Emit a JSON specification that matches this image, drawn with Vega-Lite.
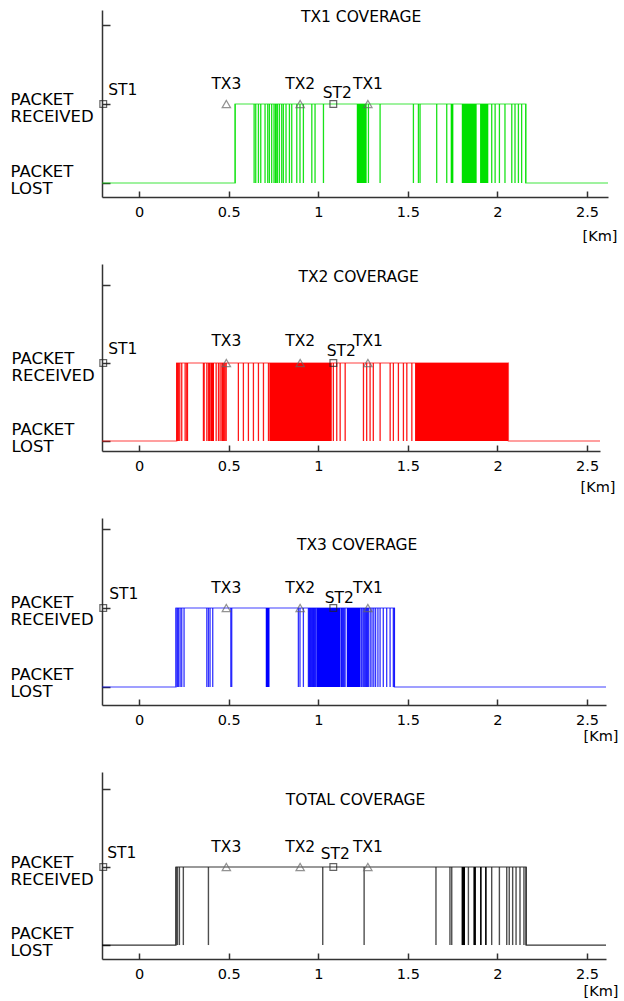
{
  "$schema": "https://vega.github.io/schema/vega-lite/v6.json",
  "padding": {"left": 10, "top": 10, "right": 0, "bottom": 0},
  "config": {
    "view": {"stroke": null},
    "font": "DejaVu Sans",
    "axis": {"grid": false, "domainColor": "#333", "domainWidth": 1.5, "tickColor": "#333", "tickWidth": 1.5, "labelColor": "#000", "labelFont": "DejaVu Sans", "titleFont": "DejaVu Sans", "titleFontWeight": "normal", "titleColor": "#000"},
    "text": {"font": "DejaVu Sans", "fontSize": 15.5, "color": "#000"}
  },
  "datasets": {
    "levels": [
      {"panel": "TX1", "km": -0.207, "state": 0}, {"panel": "TX1", "km": 0.536, "state": 1}, {"panel": "TX1", "km": 2.158, "state": 0}, {"panel": "TX1", "km": 2.617, "state": 0},
      {"panel": "TX2", "km": -0.207, "state": 0}, {"panel": "TX2", "km": 0.21, "state": 1}, {"panel": "TX2", "km": 2.061, "state": 0}, {"panel": "TX2", "km": 2.572, "state": 0},
      {"panel": "TX3", "km": -0.207, "state": 0}, {"panel": "TX3", "km": 0.206, "state": 1}, {"panel": "TX3", "km": 1.425, "state": 0}, {"panel": "TX3", "km": 2.606, "state": 0},
      {"panel": "TOTAL", "km": -0.207, "state": 0}, {"panel": "TOTAL", "km": 0.206, "state": 1}, {"panel": "TOTAL", "km": 2.16, "state": 0}, {"panel": "TOTAL", "km": 2.606, "state": 0}
    ],
    "bursts": [
      {"panel": "TX1", "km": 1.215, "end": 1.27}, {"panel": "TX1", "km": 1.739, "end": 1.754}, {"panel": "TX1", "km": 1.801, "end": 1.884}, {"panel": "TX1", "km": 1.903, "end": 1.949},
      {"panel": "TX2", "km": 0.4, "end": 0.418}, {"panel": "TX2", "km": 0.727, "end": 1.075}, {"panel": "TX2", "km": 1.54, "end": 2.061},
      {"panel": "TX3", "km": 0.707, "end": 0.728}, {"panel": "TX3", "km": 0.99, "end": 1.122}, {"panel": "TX3", "km": 1.159, "end": 1.233},
      {"panel": "TOTAL", "km": 1.8, "end": 1.819}, {"panel": "TOTAL", "km": 1.866, "end": 1.88}, {"panel": "TOTAL", "km": 1.903, "end": 1.912}, {"panel": "TOTAL", "km": 1.931, "end": 1.94}
    ],
    "drops": [
      {"panel": "TX1", "km": 0.536}, {"panel": "TX1", "km": 0.642}, {"panel": "TX1", "km": 0.651}, {"panel": "TX1", "km": 0.666}, {"panel": "TX1", "km": 0.679}, {"panel": "TX1", "km": 0.703}, {"panel": "TX1", "km": 0.718}, {"panel": "TX1", "km": 0.727}, {"panel": "TX1", "km": 0.74}, {"panel": "TX1", "km": 0.753}, {"panel": "TX1", "km": 0.761}, {"panel": "TX1", "km": 0.765}, {"panel": "TX1", "km": 0.772}, {"panel": "TX1", "km": 0.783}, {"panel": "TX1", "km": 0.796}, {"panel": "TX1", "km": 0.805}, {"panel": "TX1", "km": 0.82}, {"panel": "TX1", "km": 0.839}, {"panel": "TX1", "km": 0.852}, {"panel": "TX1", "km": 0.88}, {"panel": "TX1", "km": 0.898}, {"panel": "TX1", "km": 0.917}, {"panel": "TX1", "km": 0.964}, {"panel": "TX1", "km": 0.982}, {"panel": "TX1", "km": 1.029}, {"panel": "TX1", "km": 1.28}, {"panel": "TX1", "km": 1.345}, {"panel": "TX1", "km": 1.531}, {"panel": "TX1", "km": 1.559}, {"panel": "TX1", "km": 1.568}, {"panel": "TX1", "km": 1.661}, {"panel": "TX1", "km": 1.717}, {"panel": "TX1", "km": 1.968}, {"panel": "TX1", "km": 1.987}, {"panel": "TX1", "km": 2.011}, {"panel": "TX1", "km": 2.042}, {"panel": "TX1", "km": 2.08}, {"panel": "TX1", "km": 2.098}, {"panel": "TX1", "km": 2.117}, {"panel": "TX1", "km": 2.135}, {"panel": "TX1", "km": 2.158},
      {"panel": "TX2", "km": 0.21}, {"panel": "TX2", "km": 0.214}, {"panel": "TX2", "km": 0.22}, {"panel": "TX2", "km": 0.227}, {"panel": "TX2", "km": 0.238}, {"panel": "TX2", "km": 0.257}, {"panel": "TX2", "km": 0.266}, {"panel": "TX2", "km": 0.27}, {"panel": "TX2", "km": 0.359}, {"panel": "TX2", "km": 0.363}, {"panel": "TX2", "km": 0.378}, {"panel": "TX2", "km": 0.387}, {"panel": "TX2", "km": 0.393}, {"panel": "TX2", "km": 0.396}, {"panel": "TX2", "km": 0.43}, {"panel": "TX2", "km": 0.443}, {"panel": "TX2", "km": 0.452}, {"panel": "TX2", "km": 0.462}, {"panel": "TX2", "km": 0.466}, {"panel": "TX2", "km": 0.47}, {"panel": "TX2", "km": 0.475}, {"panel": "TX2", "km": 0.48}, {"panel": "TX2", "km": 0.486}, {"panel": "TX2", "km": 0.554}, {"panel": "TX2", "km": 0.582}, {"panel": "TX2", "km": 0.61}, {"panel": "TX2", "km": 0.638}, {"panel": "TX2", "km": 0.666}, {"panel": "TX2", "km": 0.694}, {"panel": "TX2", "km": 0.722}, {"panel": "TX2", "km": 1.084}, {"panel": "TX2", "km": 1.103}, {"panel": "TX2", "km": 1.122}, {"panel": "TX2", "km": 1.15}, {"panel": "TX2", "km": 1.252}, {"panel": "TX2", "km": 1.27}, {"panel": "TX2", "km": 1.289}, {"panel": "TX2", "km": 1.307}, {"panel": "TX2", "km": 1.345}, {"panel": "TX2", "km": 1.401}, {"panel": "TX2", "km": 1.419}, {"panel": "TX2", "km": 1.447}, {"panel": "TX2", "km": 1.475}, {"panel": "TX2", "km": 1.494}, {"panel": "TX2", "km": 1.522},
      {"panel": "TX3", "km": 0.206}, {"panel": "TX3", "km": 0.214}, {"panel": "TX3", "km": 0.22}, {"panel": "TX3", "km": 0.229}, {"panel": "TX3", "km": 0.238}, {"panel": "TX3", "km": 0.251}, {"panel": "TX3", "km": 0.378}, {"panel": "TX3", "km": 0.387}, {"panel": "TX3", "km": 0.396}, {"panel": "TX3", "km": 0.411}, {"panel": "TX3", "km": 0.512}, {"panel": "TX3", "km": 0.517}, {"panel": "TX3", "km": 0.889}, {"panel": "TX3", "km": 0.898}, {"panel": "TX3", "km": 0.917}, {"panel": "TX3", "km": 0.945}, {"panel": "TX3", "km": 0.949}, {"panel": "TX3", "km": 0.952}, {"panel": "TX3", "km": 0.957}, {"panel": "TX3", "km": 0.96}, {"panel": "TX3", "km": 0.964}, {"panel": "TX3", "km": 0.968}, {"panel": "TX3", "km": 0.972}, {"panel": "TX3", "km": 0.975}, {"panel": "TX3", "km": 0.979}, {"panel": "TX3", "km": 0.983}, {"panel": "TX3", "km": 0.987}, {"panel": "TX3", "km": 1.127}, {"panel": "TX3", "km": 1.13}, {"panel": "TX3", "km": 1.135}, {"panel": "TX3", "km": 1.14}, {"panel": "TX3", "km": 1.145}, {"panel": "TX3", "km": 1.15}, {"panel": "TX3", "km": 1.238}, {"panel": "TX3", "km": 1.243}, {"panel": "TX3", "km": 1.25}, {"panel": "TX3", "km": 1.255}, {"panel": "TX3", "km": 1.26}, {"panel": "TX3", "km": 1.265}, {"panel": "TX3", "km": 1.27}, {"panel": "TX3", "km": 1.275}, {"panel": "TX3", "km": 1.28}, {"panel": "TX3", "km": 1.29}, {"panel": "TX3", "km": 1.3}, {"panel": "TX3", "km": 1.31}, {"panel": "TX3", "km": 1.32}, {"panel": "TX3", "km": 1.333}, {"panel": "TX3", "km": 1.345}, {"panel": "TX3", "km": 1.363}, {"panel": "TX3", "km": 1.382}, {"panel": "TX3", "km": 1.401}, {"panel": "TX3", "km": 1.419}, {"panel": "TX3", "km": 1.425},
      {"panel": "TOTAL", "km": 0.206}, {"panel": "TOTAL", "km": 0.214}, {"panel": "TOTAL", "km": 0.225}, {"panel": "TOTAL", "km": 0.247}, {"panel": "TOTAL", "km": 0.387}, {"panel": "TOTAL", "km": 1.025}, {"panel": "TOTAL", "km": 1.256}, {"panel": "TOTAL", "km": 1.657}, {"panel": "TOTAL", "km": 1.735}, {"panel": "TOTAL", "km": 1.745}, {"panel": "TOTAL", "km": 1.838}, {"panel": "TOTAL", "km": 1.968}, {"panel": "TOTAL", "km": 2.011}, {"panel": "TOTAL", "km": 2.052}, {"panel": "TOTAL", "km": 2.066}, {"panel": "TOTAL", "km": 2.085}, {"panel": "TOTAL", "km": 2.104}, {"panel": "TOTAL", "km": 2.126}, {"panel": "TOTAL", "km": 2.148}, {"panel": "TOTAL", "km": 2.16}
    ],
    "sites": [
      {"site": "ST1", "kind": "ST", "km": -0.2},
      {"site": "TX3", "kind": "TX", "km": 0.487},
      {"site": "TX2", "kind": "TX", "km": 0.899},
      {"site": "ST2", "kind": "ST", "km": 1.084},
      {"site": "TX1", "kind": "TX", "km": 1.277}
    ],
    "titles": [
      {"panel": "TX1", "title": "TX1 COVERAGE"},
      {"panel": "TX2", "title": "TX2 COVERAGE"},
      {"panel": "TX3", "title": "TX3 COVERAGE"},
      {"panel": "TOTAL", "title": "TOTAL COVERAGE"}
    ]
  },
  "spacing": 67,
  "bounds": "flush",
  "vconcat": [
    {
      "width": 506, "height": 187,
      "layer": [
        {"data": {"name": "levels"}, "transform": [{"filter": "datum.panel == 'TX1'"}], "mark": {"type": "line", "interpolate": "step-after", "color": "#00dd00", "opacity": 0.5, "strokeWidth": 1.3, "clip": true}, "encoding": {"x": {"field": "km", "type": "quantitative", "scale": {"domain": [-0.207, 2.617], "nice": false, "zero": false}, "axis": {"values": [0, 0.5, 1, 1.5, 2, 2.5], "format": "~g", "tickSize": -6, "labelPadding": 14, "labelFontSize": 14.5, "title": "[Km]", "titleFontSize": 14.5, "titleAlign": "right", "titleBaseline": "middle", "titleX": 515, "titleY": 39}}, "y": {"field": "state", "type": "quantitative", "scale": {"domain": [-0.177, 2.19], "nice": false, "zero": false}, "axis": {"values": [0, 1, 2], "labelExpr": "datum.value == 1 ? ['PACKET','RECEIVED'] : datum.value == 0 ? ['PACKET','LOST'] : ''", "labelAlign": "left", "labelBaseline": "middle", "labelPadding": 100, "labelOffset": {"condition": {"test": "datum.value == 0", "value": -12}, "value": -5}, "tickSize": -8, "labelFontSize": 16.5, "labelLineHeight": 17, "title": null, "labelOverlap": false, "labelBound": false}}}},
        {"data": {"name": "bursts"}, "transform": [{"filter": "datum.panel == 'TX1'"}], "mark": {"type": "rect", "color": "#00e000"}, "encoding": {"x": {"field": "km", "type": "quantitative"}, "x2": {"field": "end"}, "y": {"datum": 0}, "y2": {"datum": 1}}},
        {"data": {"name": "drops"}, "transform": [{"filter": "datum.panel == 'TX1'"}], "mark": {"type": "rule", "color": "#00e000", "opacity": 0.9, "strokeWidth": 1.3}, "encoding": {"x": {"field": "km", "type": "quantitative"}, "y": {"datum": 0}, "y2": {"datum": 1}}},
        {"data": {"name": "sites"}, "transform": [{"filter": "datum.kind == 'TX'"}], "mark": {"type": "point", "shape": "triangle-up", "filled": false, "color": "#666", "size": 70, "strokeWidth": 1.2}, "encoding": {"x": {"field": "km", "type": "quantitative"}, "y": {"datum": 1}}},
        {"data": {"name": "sites"}, "transform": [{"filter": "datum.kind == 'ST'"}], "mark": {"type": "square", "filled": false, "color": "#222", "size": 45, "strokeWidth": 1.2}, "encoding": {"x": {"field": "km", "type": "quantitative"}, "y": {"datum": 1}}},
        {"data": {"name": "sites"}, "transform": [{"filter": "datum.kind == 'TX'"}], "mark": {"type": "text", "dy": -20}, "encoding": {"x": {"field": "km", "type": "quantitative"}, "y": {"datum": 1}, "text": {"field": "site"}}},
        {"data": {"name": "sites"}, "transform": [{"filter": "datum.site == 'ST1'"}], "mark": {"type": "text", "align": "left", "dx": 5, "dy": -14}, "encoding": {"x": {"field": "km", "type": "quantitative"}, "y": {"datum": 1}, "text": {"field": "site"}}},
        {"data": {"name": "sites"}, "transform": [{"filter": "datum.site == 'ST2'"}], "mark": {"type": "text", "dx": 4, "dy": -11}, "encoding": {"x": {"field": "km", "type": "quantitative"}, "y": {"datum": 1}, "text": {"field": "site"}}},
        {"data": {"name": "titles"}, "transform": [{"filter": "datum.panel == 'TX1'"}], "mark": {"type": "text", "baseline": "middle"}, "encoding": {"x": {"datum": 1.239}, "y": {"datum": 2.1}, "text": {"field": "title"}}}
      ]
    },
    {
      "width": 498, "height": 187,
      "layer": [
        {"data": {"name": "levels"}, "transform": [{"filter": "datum.panel == 'TX2'"}], "mark": {"type": "line", "interpolate": "step-after", "color": "#ff0000", "opacity": 0.5, "strokeWidth": 1.3, "clip": true}, "encoding": {"x": {"field": "km", "type": "quantitative", "scale": {"domain": [-0.207, 2.572], "nice": false, "zero": false}, "axis": {"values": [0, 0.5, 1, 1.5, 2, 2.5], "format": "~g", "tickSize": -6, "labelPadding": 14, "labelFontSize": 14.5, "title": "[Km]", "titleFontSize": 14.5, "titleAlign": "right", "titleBaseline": "middle", "titleX": 513, "titleY": 36}}, "y": {"field": "state", "type": "quantitative", "scale": {"domain": [-0.128, 2.269], "nice": false, "zero": false}, "axis": {"values": [0, 1, 2], "labelExpr": "datum.value == 1 ? ['PACKET','RECEIVED'] : datum.value == 0 ? ['PACKET','LOST'] : ''", "labelAlign": "left", "labelBaseline": "middle", "labelPadding": 99, "labelOffset": {"condition": {"test": "datum.value == 0", "value": -12}, "value": -5}, "tickSize": -8, "labelFontSize": 16.5, "labelLineHeight": 17, "title": null, "labelOverlap": false, "labelBound": false}}}},
        {"data": {"name": "bursts"}, "transform": [{"filter": "datum.panel == 'TX2'"}], "mark": {"type": "rect", "color": "#ff0000"}, "encoding": {"x": {"field": "km", "type": "quantitative"}, "x2": {"field": "end"}, "y": {"datum": 0}, "y2": {"datum": 1}}},
        {"data": {"name": "drops"}, "transform": [{"filter": "datum.panel == 'TX2'"}], "mark": {"type": "rule", "color": "#ff0000", "opacity": 0.9, "strokeWidth": 1.3}, "encoding": {"x": {"field": "km", "type": "quantitative"}, "y": {"datum": 0}, "y2": {"datum": 1}}},
        {"data": {"name": "sites"}, "transform": [{"filter": "datum.kind == 'TX'"}], "mark": {"type": "point", "shape": "triangle-up", "filled": false, "color": "#666", "size": 70, "strokeWidth": 1.2}, "encoding": {"x": {"field": "km", "type": "quantitative"}, "y": {"datum": 1}}},
        {"data": {"name": "sites"}, "transform": [{"filter": "datum.kind == 'ST'"}], "mark": {"type": "square", "filled": false, "color": "#222", "size": 45, "strokeWidth": 1.2}, "encoding": {"x": {"field": "km", "type": "quantitative"}, "y": {"datum": 1}}},
        {"data": {"name": "sites"}, "transform": [{"filter": "datum.kind == 'TX'"}], "mark": {"type": "text", "dy": -22}, "encoding": {"x": {"field": "km", "type": "quantitative"}, "y": {"datum": 1}, "text": {"field": "site"}}},
        {"data": {"name": "sites"}, "transform": [{"filter": "datum.site == 'ST1'"}], "mark": {"type": "text", "align": "left", "dx": 5, "dy": -14}, "encoding": {"x": {"field": "km", "type": "quantitative"}, "y": {"datum": 1}, "text": {"field": "site"}}},
        {"data": {"name": "sites"}, "transform": [{"filter": "datum.site == 'ST2'"}], "mark": {"type": "text", "dx": 8, "dy": -12}, "encoding": {"x": {"field": "km", "type": "quantitative"}, "y": {"datum": 1}, "text": {"field": "site"}}},
        {"data": {"name": "titles"}, "transform": [{"filter": "datum.panel == 'TX2'"}], "mark": {"type": "text", "baseline": "middle"}, "encoding": {"x": {"datum": 1.225}, "y": {"datum": 2.1}, "text": {"field": "title"}}}
      ]
    },
    {
      "width": 504, "height": 187,
      "layer": [
        {"data": {"name": "levels"}, "transform": [{"filter": "datum.panel == 'TX3'"}], "mark": {"type": "line", "interpolate": "step-after", "color": "#0000ff", "opacity": 0.5, "strokeWidth": 1.3, "clip": true}, "encoding": {"x": {"field": "km", "type": "quantitative", "scale": {"domain": [-0.207, 2.606], "nice": false, "zero": false}, "axis": {"values": [0, 0.5, 1, 1.5, 2, 2.5], "format": "~g", "tickSize": -6, "labelPadding": 14, "labelFontSize": 14.5, "title": "[Km]", "titleFontSize": 14.5, "titleAlign": "right", "titleBaseline": "middle", "titleX": 516, "titleY": 31}}, "y": {"field": "state", "type": "quantitative", "scale": {"domain": [-0.228, 2.139], "nice": false, "zero": false}, "axis": {"values": [0, 1, 2], "labelExpr": "datum.value == 1 ? ['PACKET','RECEIVED'] : datum.value == 0 ? ['PACKET','LOST'] : ''", "labelAlign": "left", "labelBaseline": "middle", "labelPadding": 100, "labelOffset": {"condition": {"test": "datum.value == 0", "value": -12}, "value": -5}, "tickSize": -8, "labelFontSize": 16.5, "labelLineHeight": 17, "title": null, "labelOverlap": false, "labelBound": false}}}},
        {"data": {"name": "bursts"}, "transform": [{"filter": "datum.panel == 'TX3'"}], "mark": {"type": "rect", "color": "#0000ff"}, "encoding": {"x": {"field": "km", "type": "quantitative"}, "x2": {"field": "end"}, "y": {"datum": 0}, "y2": {"datum": 1}}},
        {"data": {"name": "drops"}, "transform": [{"filter": "datum.panel == 'TX3'"}], "mark": {"type": "rule", "color": "#0000ff", "opacity": 0.8, "strokeWidth": 1.3}, "encoding": {"x": {"field": "km", "type": "quantitative"}, "y": {"datum": 0}, "y2": {"datum": 1}}},
        {"data": {"name": "sites"}, "transform": [{"filter": "datum.kind == 'TX'"}], "mark": {"type": "point", "shape": "triangle-up", "filled": false, "color": "#666", "size": 70, "strokeWidth": 1.2}, "encoding": {"x": {"field": "km", "type": "quantitative"}, "y": {"datum": 1}}},
        {"data": {"name": "sites"}, "transform": [{"filter": "datum.kind == 'ST'"}], "mark": {"type": "square", "filled": false, "color": "#222", "size": 45, "strokeWidth": 1.2}, "encoding": {"x": {"field": "km", "type": "quantitative"}, "y": {"datum": 1}}},
        {"data": {"name": "sites"}, "transform": [{"filter": "datum.kind == 'TX'"}], "mark": {"type": "text", "dy": -20}, "encoding": {"x": {"field": "km", "type": "quantitative"}, "y": {"datum": 1}, "text": {"field": "site"}}},
        {"data": {"name": "sites"}, "transform": [{"filter": "datum.site == 'ST1'"}], "mark": {"type": "text", "align": "left", "dx": 6, "dy": -14}, "encoding": {"x": {"field": "km", "type": "quantitative"}, "y": {"datum": 1}, "text": {"field": "site"}}},
        {"data": {"name": "sites"}, "transform": [{"filter": "datum.site == 'ST2'"}], "mark": {"type": "text", "dx": 6, "dy": -10}, "encoding": {"x": {"field": "km", "type": "quantitative"}, "y": {"datum": 1}, "text": {"field": "site"}}},
        {"data": {"name": "titles"}, "transform": [{"filter": "datum.panel == 'TX3'"}], "mark": {"type": "text", "baseline": "middle"}, "encoding": {"x": {"datum": 1.217}, "y": {"datum": 1.8}, "text": {"field": "title"}}}
      ]
    },
    {
      "width": 504, "height": 187,
      "layer": [
        {"data": {"name": "levels"}, "transform": [{"filter": "datum.panel == 'TOTAL'"}], "mark": {"type": "line", "interpolate": "step-after", "color": "#000000", "opacity": 0.8, "strokeWidth": 1.2, "clip": true}, "encoding": {"x": {"field": "km", "type": "quantitative", "scale": {"domain": [-0.207, 2.606], "nice": false, "zero": false}, "axis": {"values": [0, 0.5, 1, 1.5, 2, 2.5], "format": "~g", "tickSize": -6, "labelPadding": 14, "labelFontSize": 14.5, "title": "[Km]", "titleFontSize": 14.5, "titleAlign": "right", "titleBaseline": "middle", "titleX": 516, "titleY": 32}}, "y": {"field": "state", "type": "quantitative", "scale": {"domain": [-0.179, 2.218], "nice": false, "zero": false}, "axis": {"values": [0, 1, 2], "labelExpr": "datum.value == 1 ? ['PACKET','RECEIVED'] : datum.value == 0 ? ['PACKET','LOST'] : ''", "labelAlign": "left", "labelBaseline": "middle", "labelPadding": 100, "labelOffset": {"condition": {"test": "datum.value == 0", "value": -12}, "value": -5}, "tickSize": -8, "labelFontSize": 16.5, "labelLineHeight": 17, "title": null, "labelOverlap": false, "labelBound": false}}}},
        {"data": {"name": "bursts"}, "transform": [{"filter": "datum.panel == 'TOTAL'"}], "mark": {"type": "rect", "color": "#000000"}, "encoding": {"x": {"field": "km", "type": "quantitative"}, "x2": {"field": "end"}, "y": {"datum": 0}, "y2": {"datum": 1}}},
        {"data": {"name": "drops"}, "transform": [{"filter": "datum.panel == 'TOTAL'"}], "mark": {"type": "rule", "color": "#222222", "opacity": 0.8, "strokeWidth": 1.4}, "encoding": {"x": {"field": "km", "type": "quantitative"}, "y": {"datum": 0}, "y2": {"datum": 1}}},
        {"data": {"name": "sites"}, "transform": [{"filter": "datum.kind == 'TX'"}], "mark": {"type": "point", "shape": "triangle-up", "filled": false, "color": "#666", "size": 70, "strokeWidth": 1.2}, "encoding": {"x": {"field": "km", "type": "quantitative"}, "y": {"datum": 1}}},
        {"data": {"name": "sites"}, "transform": [{"filter": "datum.kind == 'ST'"}], "mark": {"type": "square", "filled": false, "color": "#222", "size": 45, "strokeWidth": 1.2}, "encoding": {"x": {"field": "km", "type": "quantitative"}, "y": {"datum": 1}}},
        {"data": {"name": "sites"}, "transform": [{"filter": "datum.kind == 'TX'"}], "mark": {"type": "text", "dy": -20}, "encoding": {"x": {"field": "km", "type": "quantitative"}, "y": {"datum": 1}, "text": {"field": "site"}}},
        {"data": {"name": "sites"}, "transform": [{"filter": "datum.site == 'ST1'"}], "mark": {"type": "text", "align": "left", "dx": 4, "dy": -14}, "encoding": {"x": {"field": "km", "type": "quantitative"}, "y": {"datum": 1}, "text": {"field": "site"}}},
        {"data": {"name": "sites"}, "transform": [{"filter": "datum.site == 'ST2'"}], "mark": {"type": "text", "dx": 2, "dy": -13}, "encoding": {"x": {"field": "km", "type": "quantitative"}, "y": {"datum": 1}, "text": {"field": "site"}}},
        {"data": {"name": "titles"}, "transform": [{"filter": "datum.panel == 'TOTAL'"}], "mark": {"type": "text", "baseline": "middle"}, "encoding": {"x": {"datum": 1.208}, "y": {"datum": 1.86}, "text": {"field": "title"}}}
      ]
    }
  ]
}
